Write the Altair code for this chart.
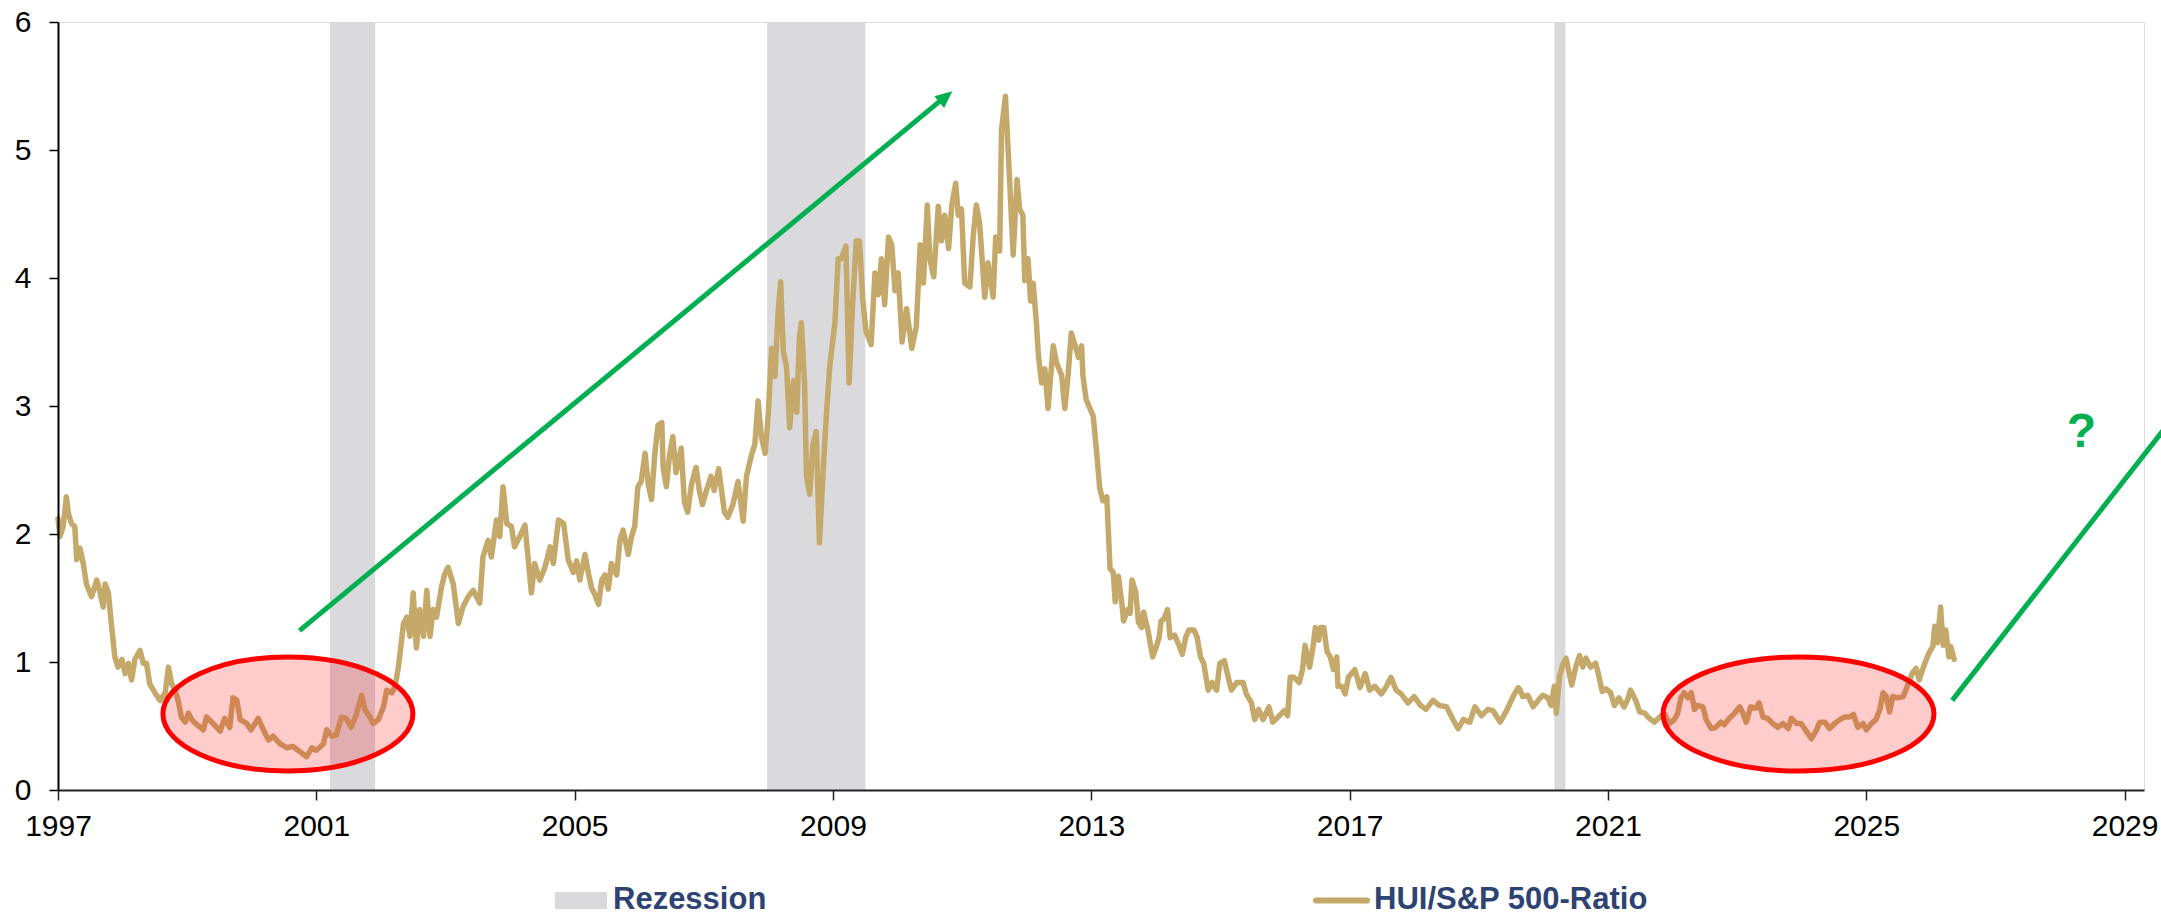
import altair as alt
import pandas as pd

# ---------------- data ----------------
years = [
    1997.00, 1997.03, 1997.08, 1997.13, 1997.16, 1997.21, 1997.26, 1997.29, 1997.34, 1997.39,
    1997.44, 1997.52, 1997.60, 1997.65, 1997.70, 1997.73, 1997.78, 1997.83, 1997.88, 1997.93,
    1997.99, 1998.04, 1998.09, 1998.14, 1998.19, 1998.27, 1998.32, 1998.37, 1998.42, 1998.50,
    1998.58, 1998.66, 1998.71, 1998.76, 1998.81, 1998.86, 1998.91, 1998.97, 1999.02, 1999.07,
    1999.13, 1999.25, 1999.30, 1999.40, 1999.51, 1999.58, 1999.66, 1999.71, 1999.77, 1999.82,
    1999.92, 1999.99, 2000.10, 2000.18, 2000.26, 2000.33, 2000.44, 2000.54, 2000.64, 2000.77,
    2000.85, 2000.93, 2001.00, 2001.11, 2001.16, 2001.24, 2001.31, 2001.39, 2001.46, 2001.54,
    2001.62, 2001.70, 2001.75, 2001.83, 2001.88, 2001.96, 2002.04, 2002.09, 2002.17, 2002.22,
    2002.27, 2002.29, 2002.35, 2002.40, 2002.45, 2002.50, 2002.55, 2002.60, 2002.66, 2002.71,
    2002.76, 2002.81, 2002.86, 2002.94, 2002.99, 2003.04, 2003.12, 2003.20, 2003.27, 2003.35,
    2003.43, 2003.53, 2003.58, 2003.66, 2003.71, 2003.79, 2003.84, 2003.89, 2003.95, 2004.02,
    2004.07, 2004.15, 2004.23, 2004.33, 2004.38, 2004.46, 2004.54, 2004.62, 2004.67, 2004.75,
    2004.83, 2004.90,
    2004.98, 2005.03, 2005.08, 2005.16, 2005.21, 2005.26, 2005.31, 2005.37, 2005.42, 2005.47,
    2005.52, 2005.57, 2005.65, 2005.70, 2005.75, 2005.83, 2005.88, 2005.93, 2005.98, 2006.03,
    2006.09, 2006.14, 2006.19, 2006.24, 2006.29, 2006.35, 2006.37, 2006.42, 2006.47, 2006.52,
    2006.57, 2006.65, 2006.70, 2006.75, 2006.81, 2006.88, 2006.93, 2006.98, 2007.04, 2007.11,
    2007.16, 2007.23, 2007.32, 2007.37, 2007.45, 2007.53, 2007.61, 2007.66, 2007.74, 2007.79,
    2007.84, 2007.89, 2007.95, 2008.00, 2008.05, 2008.10, 2008.15, 2008.19, 2008.23, 2008.28,
    2008.33, 2008.39, 2008.44, 2008.48, 2008.51, 2008.56, 2008.59, 2008.64, 2008.69, 2008.74,
    2008.79, 2008.85, 2008.90, 2008.95, 2009.03, 2009.08, 2009.13, 2009.20, 2009.25, 2009.30,
    2009.36, 2009.41, 2009.46, 2009.51, 2009.59, 2009.65, 2009.70, 2009.75, 2009.80, 2009.86,
    2009.91, 2009.96, 2010.01, 2010.07, 2010.14, 2010.22, 2010.29, 2010.35, 2010.40, 2010.46,
    2010.50, 2010.56, 2010.63, 2010.68, 2010.73, 2010.79, 2010.84, 2010.90, 2010.94, 2010.99,
    2011.04, 2011.12, 2011.17, 2011.22, 2011.27, 2011.35, 2011.40, 2011.48, 2011.52, 2011.58,
    2011.61, 2011.67, 2011.74, 2011.79, 2011.85, 2011.89, 2011.94, 2011.97, 2012.02, 2012.06,
    2012.10, 2012.15, 2012.18, 2012.23, 2012.28, 2012.33, 2012.41, 2012.46,
    2012.54, 2012.59, 2012.64, 2012.69, 2012.74, 2012.80, 2012.85, 2012.87, 2012.92, 2012.98,
    2013.03, 2013.08, 2013.13, 2013.18, 2013.24, 2013.29, 2013.34, 2013.37, 2013.42, 2013.47,
    2013.50, 2013.56, 2013.60, 2013.63, 2013.69, 2013.73, 2013.78, 2013.81, 2013.88, 2013.95,
    2014.00, 2014.05, 2014.08, 2014.13, 2014.18, 2014.22, 2014.29, 2014.35, 2014.41, 2014.46,
    2014.51, 2014.59, 2014.64, 2014.69, 2014.74, 2014.81, 2014.87, 2014.94, 2014.99, 2015.06,
    2015.12, 2015.17, 2015.25, 2015.35, 2015.40, 2015.48, 2015.53, 2015.59, 2015.66, 2015.75,
    2015.81, 2015.91, 2015.99, 2016.04, 2016.08, 2016.14, 2016.22, 2016.27, 2016.31, 2016.38,
    2016.43, 2016.47, 2016.52, 2016.55, 2016.60, 2016.65, 2016.70, 2016.75, 2016.80, 2016.82,
    2016.88, 2016.93, 2016.98, 2017.08, 2017.16, 2017.24, 2017.31, 2017.39, 2017.49, 2017.57,
    2017.64, 2017.72, 2017.80, 2017.90, 2018.00, 2018.10, 2018.18, 2018.29, 2018.39, 2018.50,
    2018.60, 2018.68, 2018.76, 2018.86, 2018.94, 2019.04, 2019.14, 2019.22, 2019.33, 2019.43,
    2019.53, 2019.61,
    2019.63, 2019.68, 2019.76, 2019.84, 2019.92, 2019.99, 2020.07, 2020.12, 2020.17, 2020.20,
    2020.25, 2020.30, 2020.35, 2020.40, 2020.44, 2020.50, 2020.56, 2020.61, 2020.66, 2020.73,
    2020.81, 2020.85, 2020.91, 2020.97, 2021.04, 2021.10, 2021.17, 2021.25, 2021.30, 2021.35,
    2021.43, 2021.49, 2021.57, 2021.64, 2021.72, 2021.80, 2021.88, 2021.95, 2022.03, 2022.08,
    2022.13, 2022.18, 2022.24, 2022.29, 2022.34, 2022.39, 2022.47, 2022.52, 2022.60, 2022.67,
    2022.75, 2022.80, 2022.88, 2022.96, 2023.04, 2023.09, 2023.14, 2023.21, 2023.29, 2023.34,
    2023.40, 2023.47, 2023.55, 2023.63, 2023.71, 2023.79, 2023.84, 2023.92, 2023.99, 2024.07,
    2024.15, 2024.23, 2024.28, 2024.36, 2024.43, 2024.51, 2024.59, 2024.66, 2024.74, 2024.80,
    2024.87, 2024.95, 2025.00, 2025.08, 2025.15, 2025.21, 2025.26, 2025.31, 2025.36, 2025.41,
    2025.49, 2025.57, 2025.62, 2025.67, 2025.72, 2025.77, 2025.82, 2025.87, 2025.93, 2025.98,
    2026.03, 2026.06, 2026.10, 2026.15, 2026.19, 2026.23, 2026.28, 2026.31, 2026.36,
]

ratio = [
    2.12, 1.98, 2.06, 2.29, 2.16, 2.08, 2.06, 1.80, 1.89, 1.77,
    1.61, 1.51, 1.64, 1.55, 1.43, 1.61, 1.54, 1.28, 1.04, 0.96,
    1.02, 0.91, 0.99, 0.86, 1.02, 1.09, 0.99, 0.99, 0.83, 0.76,
    0.70, 0.76, 0.96, 0.83, 0.78, 0.70, 0.57, 0.53, 0.60, 0.55,
    0.52, 0.47, 0.57, 0.52, 0.46, 0.56, 0.49, 0.72, 0.70, 0.55,
    0.52, 0.47, 0.56, 0.47, 0.39, 0.42, 0.36, 0.33, 0.34, 0.29,
    0.26, 0.33, 0.31, 0.36, 0.47, 0.42, 0.43, 0.57, 0.56, 0.49,
    0.59, 0.74, 0.63, 0.57, 0.52, 0.55, 0.65, 0.78, 0.76, 0.81,
    0.96, 1.04, 1.30, 1.35, 1.20, 1.54, 1.11, 1.41, 1.20, 1.56,
    1.20, 1.41, 1.35, 1.59, 1.69, 1.74, 1.61, 1.30, 1.43, 1.51,
    1.56, 1.46, 1.82, 1.95, 1.82, 2.11, 1.98, 2.37, 2.08, 2.06,
    1.90, 1.98, 2.07, 1.54, 1.77, 1.64, 1.74, 1.90, 1.77, 2.11,
    2.08, 1.80,
    1.70, 1.79, 1.64, 1.84, 1.70, 1.58, 1.53, 1.45, 1.64, 1.68,
    1.57, 1.77, 1.68, 1.95, 2.03, 1.84, 1.98, 2.06, 2.37, 2.41,
    2.63, 2.39, 2.27, 2.62, 2.85, 2.87, 2.52, 2.37, 2.62, 2.76,
    2.48, 2.67, 2.25, 2.17, 2.39, 2.52, 2.34, 2.23, 2.34, 2.45,
    2.34, 2.51, 2.17, 2.13, 2.23, 2.41, 2.10, 2.45, 2.62, 2.70,
    3.04, 2.76, 2.63, 2.95, 3.45, 3.23, 3.73, 3.97, 3.43, 3.31,
    2.83, 3.20, 2.95, 3.54, 3.65, 3.18, 2.45, 2.31, 2.70, 2.80,
    1.93, 2.51, 2.95, 3.31, 3.65, 4.15, 4.15, 4.25, 3.18, 3.76,
    4.29, 4.29, 3.84, 3.59, 3.48, 4.04, 3.87, 4.15, 3.79, 4.32,
    4.26, 3.90, 4.04, 3.50, 3.76, 3.45, 3.62, 4.26, 3.96, 4.57,
    4.15, 4.01, 4.56, 4.29, 4.49, 4.23, 4.57, 4.74, 4.49, 4.54,
    3.96, 3.93, 4.32, 4.57, 4.43, 3.85, 4.12, 3.85, 4.32, 4.21,
    5.16, 5.42, 4.71, 4.18, 4.77, 4.54, 4.49, 3.98, 4.15, 3.82,
    3.96, 3.65, 3.40, 3.18, 3.29, 2.98, 3.47, 3.34,
    3.24, 2.98, 3.24, 3.57, 3.49, 3.38, 3.47, 3.24, 3.05, 2.98,
    2.92, 2.65, 2.36, 2.26, 2.29, 1.73, 1.70, 1.47, 1.67, 1.47,
    1.32, 1.41, 1.38, 1.64, 1.54, 1.31, 1.27, 1.39, 1.24, 1.04,
    1.11, 1.19, 1.32, 1.34, 1.41, 1.19, 1.21, 1.14, 1.06, 1.19,
    1.25, 1.25, 1.19, 1.04, 0.99, 0.78, 0.84, 0.78, 0.99, 1.01,
    0.88, 0.78, 0.84, 0.84, 0.75, 0.68, 0.55, 0.63, 0.55, 0.65,
    0.53, 0.58, 0.62, 0.58, 0.88, 0.88, 0.84, 0.94, 1.13, 0.96,
    1.11, 1.27, 1.17, 1.27, 1.27, 1.08, 1.04, 0.94, 1.04, 0.81,
    0.81, 0.75, 0.88, 0.94, 0.80, 0.91, 0.78, 0.81, 0.75, 0.81,
    0.88, 0.78, 0.75, 0.68, 0.73, 0.66, 0.63, 0.70, 0.66, 0.65,
    0.55, 0.48, 0.55, 0.53, 0.65, 0.58, 0.63, 0.62, 0.53, 0.62,
    0.73, 0.80,
    0.79, 0.73, 0.74, 0.65, 0.70, 0.74, 0.72, 0.66, 0.81, 0.60,
    0.89, 0.98, 1.03, 0.91, 0.82, 0.96, 1.05, 0.96, 1.03, 0.96,
    0.99, 0.91, 0.77, 0.79, 0.76, 0.66, 0.72, 0.65, 0.70, 0.78,
    0.70, 0.61, 0.60, 0.56, 0.53, 0.57, 0.59, 0.52, 0.55, 0.60,
    0.72, 0.76, 0.72, 0.76, 0.63, 0.66, 0.65, 0.55, 0.48, 0.49,
    0.53, 0.51, 0.56, 0.60, 0.65, 0.60, 0.53, 0.65, 0.64, 0.68,
    0.57, 0.56, 0.52, 0.49, 0.52, 0.48, 0.56, 0.52, 0.52, 0.46,
    0.40, 0.47, 0.53, 0.53, 0.48, 0.52, 0.55, 0.57, 0.57, 0.59,
    0.49, 0.52, 0.47, 0.52, 0.55, 0.63, 0.76, 0.73, 0.61, 0.73,
    0.72, 0.73, 0.79, 0.86, 0.92, 0.95, 0.86, 0.94, 1.02, 1.08,
    1.12, 1.28, 1.15, 1.43, 1.13, 1.25, 1.04, 1.12, 1.02,
]
assert len(years) == len(ratio)

# recessions (start / end, decimal years)
rec_start = [2001.21, 2007.98, 2020.17]
rec_end = [2001.91, 2009.50, 2020.34]

# annotations in data coordinates
ellipse_year = [2000.56, 2023.95]
ellipse_value = [0.594, 0.594]
arrow_x = [2000.74, 2026.33]
arrow_y = [1.245, 0.70]
arrow_x2 = [2010.67, 2029.86]
arrow_y2 = [5.388, 2.98]
arrowhead_x = [2010.848]
arrowhead_y = [5.459]
question_x = [2028.33]
question_y = [2.68]
question_text = ["?"]

legend_labels = ["Rezession", "HUI/S&P 500-Ratio"]
x_ticks = [1997, 2001, 2005, 2009, 2013, 2017, 2021, 2025, 2029]
y_ticks = [0, 1, 2, 3, 4, 5, 6]

# ---------------- styling ----------------
W, H = 2086, 768
GOLD = "#C4A96B"
GREY = "#DAD9DC"
GREEN = "#00B050"
RED = "#FF0000"
NAVY = "#2E4372"
FONT = "Liberation Sans"

xs = alt.Scale(domain=[1997, 2029.3], nice=False, zero=False)
ys = alt.Scale(domain=[0, 6], nice=False, zero=True)

x_axis = alt.Axis(values=x_ticks, format="d", title=None, grid=False,
                  domainColor="#222222", domainWidth=2, tickColor="#222222",
                  tickWidth=1.5, tickSize=10, labelFontSize=30, labelColor="black",
                  labelFont=FONT, labelPadding=11, labelFlush=False,
                  labelOverlap=False, zindex=1)
y_axis = alt.Axis(values=y_ticks, format="d", title=None, grid=False,
                  domainColor="black", domainWidth=2, tickColor="black",
                  tickWidth=1.5, tickSize=9, labelFontSize=30, labelColor="black",
                  labelFont=FONT, labelPadding=18, labelFlush=False, zindex=1)

bands = alt.Chart(pd.DataFrame({"start": rec_start, "end": rec_end})).mark_rect(
    color=GREY).encode(
    x=alt.X("start:Q", scale=xs, axis=x_axis),
    x2="end:Q",
    y=alt.value(0),
    y2=alt.value(H),
)

line = alt.Chart(pd.DataFrame({"year": years, "ratio": ratio})).mark_line(
    color=GOLD, strokeWidth=5.5, strokeJoin="round", strokeCap="round").encode(
    x=alt.X("year:Q", scale=xs, axis=x_axis),
    y=alt.Y("ratio:Q", scale=ys, axis=y_axis),
)


def ellipse_path(b):
    k = 0.5523
    kb = k * b
    return (f"M -1 0 C -1 {-kb:.4f} {-k} {-b:.4f} 0 {-b:.4f} "
            f"C {k} {-b:.4f} 1 {-kb:.4f} 1 0 "
            f"C 1 {kb:.4f} {k} {b:.4f} 0 {b:.4f} "
            f"C {-k} {b:.4f} -1 {kb:.4f} -1 0 Z")


ellipse_px = [(250, 114), (271, 114)]
ellipses = []
for i, (wpx, hpx) in enumerate(ellipse_px):
    e = alt.Chart(pd.DataFrame({"year": [ellipse_year[i]], "value": [ellipse_value[i]]})).mark_point(
        shape=ellipse_path(hpx / wpx), size=wpx * wpx, filled=True, color=RED,
        fill=RED, fillOpacity=0.2, stroke=RED, strokeWidth=5, strokeOpacity=1,
        opacity=1).encode(
        x=alt.X("year:Q", scale=xs, axis=x_axis),
        y=alt.Y("value:Q", scale=ys, axis=y_axis),
    )
    ellipses.append(e)

arrows = alt.Chart(pd.DataFrame({"x": arrow_x, "y": arrow_y, "x2": arrow_x2, "y2": arrow_y2})).mark_rule(
    color=GREEN, strokeWidth=5).encode(
    x=alt.X("x:Q", scale=xs, axis=x_axis),
    y=alt.Y("y:Q", scale=ys, axis=y_axis),
    x2="x2:Q",
    y2="y2:Q",
)

arrowhead = alt.Chart(pd.DataFrame({"x": arrowhead_x, "y": arrowhead_y})).mark_point(
    shape="M 0 0 L -0.9 2 L 0.9 2 Z", size=289, angle=50.4, filled=True,
    color=GREEN, opacity=1, strokeWidth=0).encode(
    x=alt.X("x:Q", scale=xs, axis=x_axis),
    y=alt.Y("y:Q", scale=ys, axis=y_axis),
)

question = alt.Chart(pd.DataFrame({"x": question_x, "y": question_y, "t": question_text})).mark_text(
    align="center", baseline="alphabetic", fontSize=48, fontWeight="bold",
    color=GREEN, font=FONT).encode(
    x=alt.X("x:Q", scale=xs, axis=x_axis),
    y=alt.Y("y:Q", scale=ys, axis=y_axis),
    text="t:N",
)

leg1 = pd.DataFrame({"label": [legend_labels[0]]})
leg2 = pd.DataFrame({"label": [legend_labels[1]]})

leg_rect = alt.Chart(leg1).mark_rect(color=GREY).encode(
    x=alt.value(497), x2=alt.value(549), y=alt.value(870), y2=alt.value(887))
leg_text1 = alt.Chart(leg1).mark_text(
    align="left", baseline="alphabetic", fontSize=31, fontWeight="bold",
    color=NAVY, font=FONT).encode(x=alt.value(555), y=alt.value(887), text="label:N")
leg_line = alt.Chart(leg2).mark_rule(color=GOLD, strokeWidth=6, strokeCap="round").encode(
    x=alt.value(1258), x2=alt.value(1309), y=alt.value(878.5))
leg_text2 = alt.Chart(leg2).mark_text(
    align="left", baseline="alphabetic", fontSize=31, fontWeight="bold",
    color=NAVY, font=FONT).encode(x=alt.value(1316), y=alt.value(887), text="label:N")

chart = alt.layer(
    bands, line, *ellipses, arrows, arrowhead, question,
    leg_rect, leg_text1, leg_line, leg_text2,
).properties(
    width=W, height=H,
    autosize=alt.AutoSizeParams(type="none"),
    padding={"left": 58, "top": 22, "right": 17, "bottom": 126},
    background="white",
).configure_view(stroke=None).configure(font=FONT)

chart.save("out.html", embed_options={"renderer": "svg", "actions": False})
